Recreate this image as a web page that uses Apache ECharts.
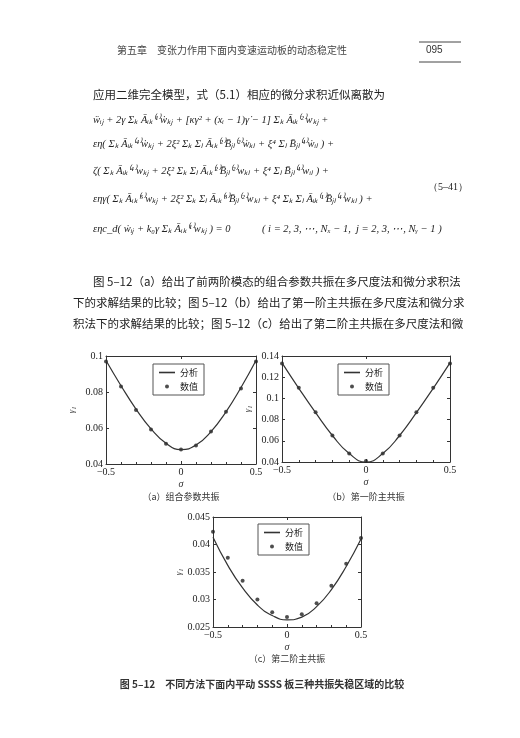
<!DOCTYPE html>
<html style="height: 100%">
  <head>
    <meta charset="utf-8" />
    <script src="https://cdn.jsdelivr.net/npm/echarts@6/dist/echarts.min.js"></script>
  </head>
  <body style="height: 100%; margin: 0; background: #fff">
    <div id="container" style="width: 520px; height: 738px"></div>
    <script type="text/javascript">
      var sigma = [-0.5, -0.4, -0.3, -0.2, -0.1, 0, 0.1, 0.2, 0.3, 0.4, 0.5];

      // (a) 组合参数共振
      var lineA = [0.0975, 0.0835, 0.0705, 0.0595, 0.0515, 0.048, 0.0505, 0.058, 0.069, 0.0825, 0.0975];
      var dotsA = [0.097, 0.083, 0.070, 0.0592, 0.0513, 0.048, 0.0503, 0.058, 0.069, 0.082, 0.097];
      // (b) 第一阶主共振
      var lineB = [0.1335, 0.1095, 0.0865, 0.065, 0.048, 0.040, 0.048, 0.065, 0.0865, 0.1095, 0.1335];
      var dotsB = [0.133, 0.110, 0.087, 0.065, 0.048, 0.041, 0.048, 0.065, 0.087, 0.110, 0.133];
      // (c) 第二阶主共振
      var lineC = [0.0413, 0.0362, 0.0321, 0.029, 0.0271, 0.0263, 0.0268, 0.0287, 0.0318, 0.0360, 0.0410];
      var dotsC = [0.0423, 0.0376, 0.0334, 0.0300, 0.0277, 0.0268, 0.0273, 0.0293, 0.0325, 0.0365, 0.0412];

      var serif = "Liberation Serif";
      var cjk = "Noto Sans CJK SC";

      var chart = echarts.init(document.getElementById("container"));

      function pairs(ys) {
        return sigma.map(function (x, i) { return [x, ys[i]]; });
      }

      var grids = [
        { left: 106, top: 356, width: 150, height: 108 },
        { left: 282, top: 356, width: 168, height: 106 },
        { left: 213, top: 517, width: 148, height: 110 }
      ];
      var yCfg = [
        { min: 0.04, max: 0.1, interval: 0.02, fmt: function (v) { return v === 0.1 ? "0.1" : v.toFixed(2); } },
        { min: 0.04, max: 0.14, interval: 0.02, fmt: function (v) { return v === 0.1 ? "0.1" : v.toFixed(2); } },
        { min: 0.025, max: 0.045, interval: 0.005, fmt: function (v) { return v.toFixed(3).replace(/0$/, ""); } }
      ];
      var lines = [lineA, lineB, lineC];
      var dots = [dotsA, dotsB, dotsC];
      var legendPos = [
        { left: 153, top: 364 },
        { left: 338, top: 364 },
        { left: 258, top: 524 }
      ];

      var xAxis = [], yAxis = [], series = [], legend = [];
      grids.forEach(function (g, i) {
        var axLine = { onZero: false, lineStyle: { color: "#333", width: 1 } };
        var tick = { inside: true, length: 3, lineStyle: { color: "#333" } };
        xAxis.push({
          gridIndex: i, type: "value", min: -0.5, max: 0.5, interval: 0.5,
          name: "σ", nameLocation: "middle", nameGap: 15,
          nameTextStyle: { fontFamily: serif, fontStyle: "italic", fontSize: 10, color: "#333" },
          axisLine: axLine, axisTick: tick, splitLine: { show: false },
          minorTick: { show: true, splitNumber: 5, length: 2, lineStyle: { color: "#333" } },
          axisLabel: { fontFamily: serif, fontSize: 10, color: "#222", margin: 3,
            formatter: function (v) { return v < 0 ? "\u2212" + Math.abs(v) : String(v); } }
        });
        xAxis.push({
          gridIndex: i, type: "value", min: -0.5, max: 0.5, interval: 0.5, position: "top",
          axisLine: axLine, axisTick: tick, axisLabel: { show: false }, splitLine: { show: false }
        });
        var c = yCfg[i];
        yAxis.push({
          gridIndex: i, type: "value", min: c.min, max: c.max, interval: c.interval,
          name: "γ₁", nameLocation: "middle", nameGap: 30, nameRotate: 90,
          nameTextStyle: { fontFamily: serif, fontStyle: "italic", fontSize: 9, color: "#333" },
          axisLine: axLine, axisTick: tick, splitLine: { show: false },
          axisLabel: { fontFamily: serif, fontSize: 10, color: "#222", margin: 3, formatter: c.fmt }
        });
        yAxis.push({
          gridIndex: i, type: "value", min: c.min, max: c.max, interval: c.interval, position: "right",
          axisLine: axLine, axisTick: tick, axisLabel: { show: false }, splitLine: { show: false }
        });
        series.push({
          name: "分析", type: "line", xAxisIndex: 2 * i, yAxisIndex: 2 * i,
          data: pairs(lines[i]), smooth: 0.5, showSymbol: false,
          lineStyle: { color: "#333", width: 1.2 }, itemStyle: { color: "#333" }
        });
        series.push({
          name: "数值", type: "scatter", xAxisIndex: 2 * i, yAxisIndex: 2 * i,
          data: pairs(dots[i]), symbolSize: 4, itemStyle: { color: "#222" }
        });
        var lp = legendPos[i];
        legend.push({
          data: [{ name: "分析", icon: "path://M0,0 L10,0 L10,1 L0,1 Z" }, { name: "数值", icon: "circle" }],
          orient: "vertical", left: lp.left, top: lp.top,
          itemWidth: 16, itemHeight: 4, itemGap: 5,
          borderColor: "#555", borderWidth: 1, padding: [4, 6],
          textStyle: { fontFamily: cjk, fontSize: 9, color: "#222" }, selectedMode: false
        });
      });

      function txt(x, y, s, opt) {
        opt = opt || {};
        return {
          type: "text", x: x, y: y,
          style: {
            text: s, fill: opt.color || "#222",
            font: (opt.style || "") + " " + (opt.weight || "") + " " + (opt.size || 11) + "px '" + (opt.family || cjk) + "'",
            textAlign: opt.align || "left", textVerticalAlign: "top"
          }
        };
      }
      var eq = { family: serif, style: "italic", size: 10.5 };

      var graphic = [
        txt(117, 45, "第五章　变张力作用下面内变速运动板的动态稳定性", { size: 10, color: "#444" }),
        txt(426, 45, "095", { size: 10, family: "Liberation Sans", color: "#333" }),
        { type: "line", shape: { x1: 419, y1: 42, x2: 461, y2: 42 }, style: { stroke: "#444", lineWidth: 1 } },
        { type: "line", shape: { x1: 419, y1: 62, x2: 461, y2: 62 }, style: { stroke: "#444", lineWidth: 1 } },
        txt(93, 89, "应用二维完全模型，式（5.1）相应的微分求积近似离散为", { size: 11.5 }),
        txt(93, 115, "ẅᵢⱼ + 2γ Σₖ Āᵢₖ⁽¹⁾ẇₖⱼ + [κγ² + (xᵢ − 1)γ̇ − 1] Σₖ Āᵢₖ⁽²⁾wₖⱼ +", eq),
        txt(93, 139, "εη( Σₖ Āᵢₖ⁽⁴⁾ẇₖⱼ + 2ξ² Σₖ Σₗ Āᵢₖ⁽²⁾B̄ⱼₗ⁽²⁾ẇₖₗ + ξ⁴ Σₗ B̄ⱼₗ⁽⁴⁾ẇᵢₗ ) +", eq),
        txt(93, 166, "ζ( Σₖ Āᵢₖ⁽⁴⁾wₖⱼ + 2ξ² Σₖ Σₗ Āᵢₖ⁽²⁾B̄ⱼₗ⁽²⁾wₖₗ + ξ⁴ Σₗ B̄ⱼₗ⁽⁴⁾wᵢₗ ) +", eq),
        txt(93, 194, "εηγ( Σₖ Āᵢₖ⁽⁵⁾wₖⱼ + 2ξ² Σₖ Σₗ Āᵢₖ⁽³⁾B̄ⱼₗ⁽²⁾wₖₗ + ξ⁴ Σₖ Σₗ Āᵢₖ⁽¹⁾B̄ⱼₗ⁽⁴⁾wₖₗ ) +", eq),
        txt(93, 224, "εηc_d( ẇᵢⱼ + k₀γ Σₖ Āᵢₖ⁽¹⁾wₖⱼ ) = 0", eq),
        txt(262, 224, "( i = 2, 3, ⋯, Nₓ − 1,  j = 2, 3, ⋯, Nᵧ − 1 )", eq),
        txt(428, 182, "（5–41）", { size: 10, family: serif }),
        txt(93, 276, "图 5–12（a）给出了前两阶模态的组合参数共振在多尺度法和微分求积法", { size: 11.5 }),
        txt(73, 297, "下的求解结果的比较；图 5–12（b）给出了第一阶主共振在多尺度法和微分求", { size: 11.5 }),
        txt(73, 318, "积法下的求解结果的比较；图 5–12（c）给出了第二阶主共振在多尺度法和微", { size: 11.5 }),
        txt(181, 492, "（a）组合参数共振", { size: 9, align: "center", color: "#333" }),
        txt(366, 492, "（b）第一阶主共振", { size: 9, align: "center", color: "#333" }),
        txt(287, 654, "（c）第二阶主共振", { size: 9, align: "center", color: "#333" }),
        txt(262, 679, "图 5–12　不同方法下面内平动 SSSS 板三种共振失稳区域的比较", { size: 10, align: "center", weight: "bold", color: "#333" })
      ];

      var option = {
        animation: false,
        grid: grids,
        xAxis: xAxis,
        yAxis: yAxis,
        legend: legend,
        series: series,
        graphic: graphic
      };
      chart.setOption(option);
    </script>
  </body>
</html>
